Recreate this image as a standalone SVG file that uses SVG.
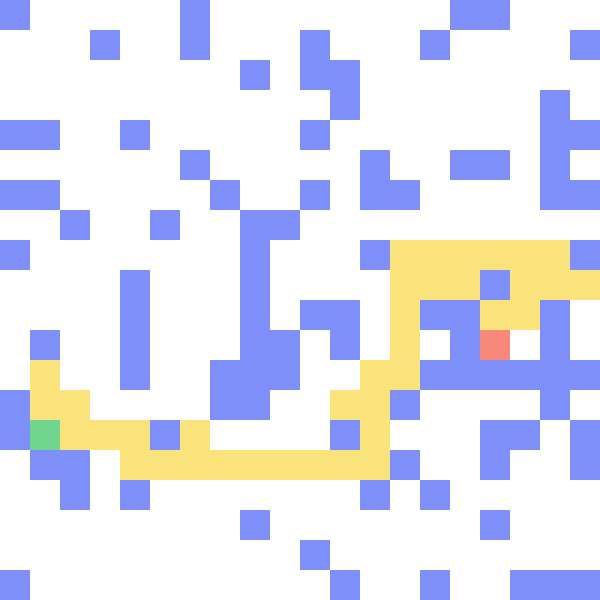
<svg xmlns="http://www.w3.org/2000/svg" width="600" height="600" viewBox="0 0 600 600">
<style>
.w{fill:#7f8ff9}
.p{fill:#fbe37c}
.s{fill:#70d68f}
.e{fill:#f9897a}
</style>
<rect width="600" height="600" fill="#ffffff"/>
<g id="walls">
<rect class="w" x="0" y="0" width="30" height="30"/>
<rect class="w" x="180" y="0" width="30" height="30"/>
<rect class="w" x="450" y="0" width="60" height="30"/>
<rect class="w" x="90" y="30" width="30" height="30"/>
<rect class="w" x="180" y="30" width="30" height="30"/>
<rect class="w" x="300" y="30" width="30" height="30"/>
<rect class="w" x="420" y="30" width="30" height="30"/>
<rect class="w" x="570" y="30" width="30" height="30"/>
<rect class="w" x="240" y="60" width="30" height="30"/>
<rect class="w" x="300" y="60" width="60" height="30"/>
<rect class="w" x="330" y="90" width="30" height="30"/>
<rect class="w" x="540" y="90" width="30" height="30"/>
<rect class="w" x="0" y="120" width="60" height="30"/>
<rect class="w" x="120" y="120" width="30" height="30"/>
<rect class="w" x="300" y="120" width="30" height="30"/>
<rect class="w" x="540" y="120" width="60" height="30"/>
<rect class="w" x="180" y="150" width="30" height="30"/>
<rect class="w" x="360" y="150" width="30" height="30"/>
<rect class="w" x="450" y="150" width="60" height="30"/>
<rect class="w" x="540" y="150" width="30" height="30"/>
<rect class="w" x="0" y="180" width="60" height="30"/>
<rect class="w" x="210" y="180" width="30" height="30"/>
<rect class="w" x="300" y="180" width="30" height="30"/>
<rect class="w" x="360" y="180" width="60" height="30"/>
<rect class="w" x="540" y="180" width="60" height="30"/>
<rect class="w" x="60" y="210" width="30" height="30"/>
<rect class="w" x="150" y="210" width="30" height="30"/>
<rect class="w" x="240" y="210" width="60" height="30"/>
<rect class="w" x="0" y="240" width="30" height="30"/>
<rect class="w" x="240" y="240" width="30" height="30"/>
<rect class="w" x="360" y="240" width="30" height="30"/>
<rect class="w" x="570" y="240" width="30" height="30"/>
<rect class="w" x="120" y="270" width="30" height="30"/>
<rect class="w" x="240" y="270" width="30" height="30"/>
<rect class="w" x="480" y="270" width="30" height="30"/>
<rect class="w" x="120" y="300" width="30" height="30"/>
<rect class="w" x="240" y="300" width="30" height="30"/>
<rect class="w" x="300" y="300" width="60" height="30"/>
<rect class="w" x="420" y="300" width="60" height="30"/>
<rect class="w" x="540" y="300" width="30" height="30"/>
<rect class="w" x="30" y="330" width="30" height="30"/>
<rect class="w" x="120" y="330" width="30" height="30"/>
<rect class="w" x="240" y="330" width="60" height="30"/>
<rect class="w" x="330" y="330" width="30" height="30"/>
<rect class="w" x="450" y="330" width="30" height="30"/>
<rect class="w" x="540" y="330" width="30" height="30"/>
<rect class="w" x="120" y="360" width="30" height="30"/>
<rect class="w" x="210" y="360" width="90" height="30"/>
<rect class="w" x="420" y="360" width="180" height="30"/>
<rect class="w" x="0" y="390" width="30" height="30"/>
<rect class="w" x="210" y="390" width="60" height="30"/>
<rect class="w" x="390" y="390" width="30" height="30"/>
<rect class="w" x="540" y="390" width="30" height="30"/>
<rect class="w" x="0" y="420" width="30" height="30"/>
<rect class="w" x="150" y="420" width="30" height="30"/>
<rect class="w" x="330" y="420" width="30" height="30"/>
<rect class="w" x="480" y="420" width="60" height="30"/>
<rect class="w" x="570" y="420" width="30" height="30"/>
<rect class="w" x="30" y="450" width="60" height="30"/>
<rect class="w" x="390" y="450" width="30" height="30"/>
<rect class="w" x="480" y="450" width="30" height="30"/>
<rect class="w" x="570" y="450" width="30" height="30"/>
<rect class="w" x="60" y="480" width="30" height="30"/>
<rect class="w" x="120" y="480" width="30" height="30"/>
<rect class="w" x="360" y="480" width="30" height="30"/>
<rect class="w" x="420" y="480" width="30" height="30"/>
<rect class="w" x="240" y="510" width="30" height="30"/>
<rect class="w" x="480" y="510" width="30" height="30"/>
<rect class="w" x="300" y="540" width="30" height="30"/>
<rect class="w" x="0" y="570" width="30" height="30"/>
<rect class="w" x="330" y="570" width="30" height="30"/>
<rect class="w" x="420" y="570" width="30" height="30"/>
<rect class="w" x="510" y="570" width="90" height="30"/>
</g>
<g id="path">
<rect class="p" x="390" y="240" width="180" height="30"/>
<rect class="p" x="390" y="270" width="90" height="30"/>
<rect class="p" x="510" y="270" width="90" height="30"/>
<rect class="p" x="390" y="300" width="30" height="30"/>
<rect class="p" x="480" y="300" width="60" height="30"/>
<rect class="p" x="390" y="330" width="30" height="30"/>
<rect class="p" x="30" y="360" width="30" height="30"/>
<rect class="p" x="360" y="360" width="60" height="30"/>
<rect class="p" x="30" y="390" width="60" height="30"/>
<rect class="p" x="330" y="390" width="60" height="30"/>
<rect class="p" x="60" y="420" width="90" height="30"/>
<rect class="p" x="180" y="420" width="30" height="30"/>
<rect class="p" x="360" y="420" width="30" height="30"/>
<rect class="p" x="120" y="450" width="270" height="30"/>
</g>
<g id="start"><rect class="s" x="30" y="420" width="30" height="30"/></g>
<g id="end"><rect class="e" x="480" y="330" width="30" height="30"/></g>
</svg>
